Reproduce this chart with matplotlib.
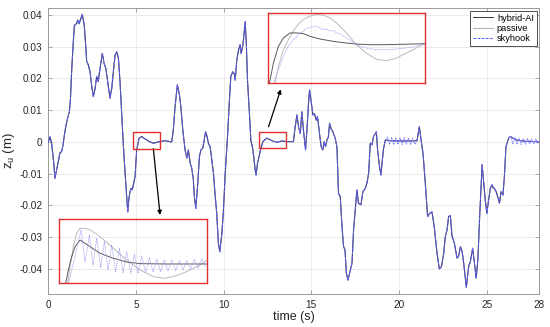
import matplotlib
matplotlib.use("Agg")
import matplotlib.pyplot as plt

plt.rcParams['font.family'] = ['Liberation Sans', 'DejaVu Sans']

# main trace (all three controllers lie on top of each other at this scale)
t_main = [0.0, 0.1, 0.19, 0.3, 0.38, 0.47, 0.57, 0.66, 0.76, 0.84, 0.9, 1.0, 1.1, 1.2,
          1.26, 1.33, 1.42, 1.49, 1.56, 1.62, 1.68, 1.75, 1.83, 1.94, 2.05, 2.13, 2.19,
          2.28, 2.38, 2.48, 2.57, 2.67, 2.76, 2.85, 2.91, 3.01, 3.08, 3.18, 3.28, 3.39,
          3.52, 3.62, 3.71, 3.81, 3.9, 4.0, 4.09, 4.19, 4.28, 4.38, 4.47, 4.53, 4.6,
          4.66, 4.72, 4.79, 4.85, 4.95, 5.04, 5.18, 5.33, 5.45, 5.62, 5.8, 5.99, 6.2,
          6.37, 6.66, 7.04, 7.13, 7.23, 7.36, 7.48, 7.56, 7.67, 7.8, 7.9, 7.99, 8.09,
          8.18, 8.27, 8.33, 8.41, 8.51, 8.62, 8.7, 8.81, 8.89, 8.97, 9.05, 9.13, 9.23,
          9.42, 9.52, 9.6, 9.7, 9.78, 9.9, 9.99, 10.09, 10.22, 10.33, 10.41, 10.52,
          10.6, 10.66, 10.75, 10.85, 10.94, 11.0, 11.1, 11.23, 11.3, 11.36, 11.47,
          11.55, 11.67, 11.8, 11.85, 11.93, 12.04, 12.12, 12.24, 12.46, 12.75, 13.04,
          13.32, 13.6, 13.98, 14.08, 14.18, 14.27, 14.37, 14.46, 14.55, 14.67, 14.75,
          14.84, 14.9, 14.98, 15.09, 15.17, 15.28, 15.35, 15.47, 15.56, 15.66, 15.73,
          15.81, 15.89, 15.97, 16.04, 16.12, 16.23, 16.36, 16.46, 16.55, 16.65, 16.75,
          16.84, 16.92, 17.0, 17.09, 17.18, 17.32, 17.41, 17.6, 17.69, 17.83, 17.94,
          18.08, 18.17, 18.27, 18.36, 18.46, 18.55, 18.71, 18.78, 18.89, 18.97, 19.05,
          19.12, 19.22, 19.5, 20.0, 20.5, 21.03, 21.16, 21.26, 21.37, 21.5, 21.63,
          21.75, 21.88, 22.01, 22.17, 22.3, 22.42, 22.55, 22.64, 22.74, 22.83, 22.93,
          23.02, 23.16, 23.31, 23.4, 23.5, 23.6, 23.69, 23.84, 23.97, 24.07, 24.2,
          24.3, 24.4, 24.5, 24.6, 24.74, 24.8, 24.92, 25.01, 25.11, 25.21, 25.31,
          25.38, 25.44, 25.54, 25.63, 25.73, 25.82, 25.93, 26.01, 26.1, 26.25, 26.35,
          26.7, 27.2, 28.0]
z_main = [0.0, 0.0016, -0.0004, -0.006, -0.0114, -0.009, -0.0062, -0.0035, -0.003,
          -0.001, 0.0015, 0.005, 0.0075, 0.0095, 0.013, 0.0221, 0.031, 0.0368, 0.037,
          0.0374, 0.0384, 0.0372, 0.0385, 0.0402, 0.0368, 0.0306, 0.0253, 0.0243,
          0.0221, 0.0174, 0.0143, 0.0169, 0.0206, 0.019, 0.0216, 0.0253, 0.0279,
          0.0248, 0.0232, 0.019, 0.0138, 0.0169, 0.0221, 0.0274, 0.0284, 0.0264,
          0.019, 0.0085, -0.0009, -0.0099, -0.0172, -0.022, -0.0177, -0.0157, -0.0146,
          -0.0151, -0.0135, -0.0109, -0.0025, 0.0012, 0.0017, 0.0012, 0.0006, 0.0,
          -0.0004, -0.0001, 0.0001, 0.0004, 0.0, 0.0038, 0.0111, 0.018, 0.0148,
          0.0111, 0.0038, -0.0025, -0.0051, -0.0025, -0.0067, -0.0083, -0.0117,
          -0.0172, -0.0209, -0.0141, -0.0046, -0.0025, -0.002, 0.0006, 0.0032, 0.0018,
          -0.0004, -0.0015, -0.0099, -0.0172, -0.022, -0.0319, -0.0346, -0.0288,
          -0.0214, -0.0099, 0.0017, 0.0132, 0.0206, 0.0221, 0.0216, 0.0195, 0.0258,
          0.029, 0.0306, 0.0279, 0.0306, 0.0379, 0.03, 0.0195, 0.009, 0.0006, -0.0025,
          -0.0088, -0.0104, -0.0067, -0.0041, -0.002, 0.0001, 0.0012, 0.0004, -0.0001,
          0.0003, 0.0001, 0.0001, 0.0048, 0.0085, 0.0048, 0.0027, 0.0095, 0.0038,
          -0.0025, 0.0038, 0.0122, 0.0164, 0.0132, 0.0085, 0.009, 0.0069, 0.008,
          0.0027, -0.0015, -0.0025, 0.0001, -0.0015, 0.0006, 0.0015, 0.0059, 0.0043,
          0.0032, 0.0012, -0.0015, -0.0162, -0.0172, -0.0267, -0.033, -0.034, -0.0414,
          -0.0435, -0.0414, -0.0382, -0.0277, -0.0151, -0.0193, -0.0198, -0.0157,
          -0.0146, -0.013, -0.0099, -0.0004, -0.0009, 0.0017, 0.0032, -0.0025, -0.0078,
          -0.0104, -0.0057, -0.002, 0.0006, 0.0004, 0.0003, 0.0003, 0.0004, 0.0048,
          0.0006, -0.0036, -0.013, -0.0235, -0.0225, -0.022, -0.0267, -0.0351, -0.04,
          -0.0393, -0.0351, -0.0298, -0.0277, -0.0235, -0.0232, -0.0295, -0.0319,
          -0.0366, -0.036, -0.033, -0.0345, -0.0382, -0.0458, -0.0393, -0.0377,
          -0.0335, -0.038, -0.0429, -0.037, -0.0235, -0.0072, -0.0109, -0.0183,
          -0.0225, -0.0183, -0.0146, -0.0135, -0.0146, -0.0146, -0.0157, -0.0172,
          -0.0193, -0.0157, -0.0167, -0.0109, -0.0015, 0.0012, 0.0017, 0.0006, 0.0002,
          0.0001]

# skyhook ripple on the flat stretches
t_sky_r1 = [19.22, 19.34, 19.46, 19.58, 19.70, 19.82, 19.94, 20.06, 20.18, 20.30,
            20.42, 20.54, 20.66, 20.78, 20.90, 21.03]
z_sky_r1 = [0.0006, 0.0016, -0.0008, 0.0015, -0.0009, 0.0014, -0.0008, 0.0013,
            -0.0008, 0.0014, -0.0007, 0.0013, -0.0008, 0.0012, -0.0007, 0.0004]
t_sky_r2 = [26.25, 26.37, 26.49, 26.61, 26.73, 26.85, 26.97, 27.09, 27.21, 27.33,
            27.45, 27.57, 27.69, 27.81, 27.93, 28.0]
z_sky_r2 = [0.0012, 0.0018, -0.0006, 0.0014, -0.0008, 0.0012, -0.0008, 0.0011,
            -0.0007, 0.0011, -0.0006, 0.0010, -0.0006, 0.0010, -0.0005, 0.0003]

# zoom 1 (around t = 5..6.5)
t_z1_hyb = [5.063, 5.09, 5.123, 5.157, 5.207, 5.257, 5.307, 5.407, 5.54, 5.673,
            5.807, 6.073, 6.48]
z_z1_hyb = [-0.00116, -0.00036, 0.00044, 0.00104, 0.00144, 0.00124, 0.00104,
            0.00064, 0.00034, 0.00012, 0.00002, 0.0, 0.0]
t_z1_pas = [5.083, 5.107, 5.14, 5.173, 5.207, 5.257, 5.307, 5.407, 5.54, 5.673,
            5.807, 5.94, 6.04, 6.14, 6.273, 6.407, 6.48]
z_z1_pas = [-0.00116, -0.00016, 0.00104, 0.00184, 0.00214, 0.00214, 0.00204,
            0.00164, 0.00094, 0.00024, -0.00036, -0.00076, -0.00086, -0.00076,
            -0.00046, -0.00006, 0.00024]
t_z1_sky = [5.09, 5.147, 5.217, 5.257, 5.3, 5.337, 5.373, 5.413, 5.45, 5.487, 5.523,
            5.563, 5.6, 5.637, 5.673, 5.713, 5.75, 5.787, 5.823, 5.863, 5.9, 5.937,
            5.973, 6.013, 6.05, 6.087, 6.123, 6.163, 6.2, 6.237, 6.273, 6.313, 6.35,
            6.387, 6.423, 6.46]
z_z1_sky = [-0.00116, 0.00024, 0.00204, 0.00014, 0.00174, -0.00006, 0.00154,
            -0.0002, 0.00134, -0.00036, 0.00114, -0.00046, 0.00094, -0.00052,
            0.00074, -0.00056, 0.00058, -0.00056, 0.00048, -0.00052, 0.00038,
            -0.00048, 0.0003, -0.00046, 0.00024, -0.00042, 0.00024, -0.0004, 0.0002,
            -0.00036, 0.0002, -0.00032, 0.00028, -0.00026, 0.00032, -0.0002]

# zoom 2 (around t = 12..13.6)
t_z2_hyb = [12.01, 12.05, 12.1, 12.15, 12.217, 12.283, 12.35, 12.417, 12.517, 12.65,
            12.783, 12.883, 13.017, 13.15, 13.317, 13.573]
z_z2_hyb = [-0.00232, -0.00112, -0.00012, 0.00038, 0.00068, 0.00068, 0.00064,
            0.00048, 0.00032, 0.00018, 0.00008, 0.00002, -0.00002, -0.00002, 0.0,
            0.00004]
t_z2_pas = [12.067, 12.1, 12.15, 12.217, 12.283, 12.35, 12.417, 12.483, 12.55,
            12.617, 12.683, 12.783, 12.883, 12.983, 13.083, 13.183, 13.283, 13.383,
            13.483, 13.573]
z_z2_pas = [-0.00232, -0.00132, -0.00032, 0.00048, 0.00108, 0.00148, 0.00168,
            0.00178, 0.00174, 0.00158, 0.00128, 0.00068, -0.00002, -0.00052,
            -0.00088, -0.00098, -0.00082, -0.00052, -0.00022, 0.00008]
t_z2_sky = [12.05, 12.1, 12.15, 12.2, 12.25, 12.3, 12.35, 12.383, 12.417, 12.45,
            12.483, 12.517, 12.55, 12.583, 12.617, 12.65, 12.683, 12.717, 12.783,
            12.883, 12.983, 13.083, 13.183, 13.317, 13.45, 13.573]
z_z2_sky = [-0.00232, -0.00152, -0.00072, -0.00012, 0.00028, 0.00058, 0.00078,
            0.00098, 0.00098, 0.00108, 0.00108, 0.00098, 0.00088, 0.00092, 0.00078,
            0.00084, 0.00068, 0.00064, 0.00038, -0.00002, -0.00022, -0.00032,
            -0.00032, -0.00026, -0.00016, 0.00004]

x_ticks = [0, 5, 10, 15, 20, 25, 28]
y_ticks = [-0.04, -0.03, -0.02, -0.01, 0, 0.01, 0.02, 0.03, 0.04]
y_ticklabels = ['-0.04', '-0.03', '-0.02', '-0.01', '0', '0.01', '0.02', '0.03', '0.04']

c_hyb = '#343440'
c_pas = '#b4b4b4'
c_sky = '#6464ff'
c_red = '#e03030'

fig = plt.figure(figsize=(5.5, 3.27), dpi=100)
ax = fig.add_axes([0.0878, 0.1009, 0.8927, 0.8746])

ax.plot(t_main, z_main, color=c_pas, lw=0.8, label='passive', zorder=2)
ax.plot(t_main, z_main, color=c_hyb, lw=0.7, label='hybrid-AI', zorder=3)
ax.plot(t_main, z_main, color=c_sky, lw=0.8, ls=(0, (2.5, 1.2)), label='skyhook', zorder=4)
ax.plot(t_sky_r1, z_sky_r1, color='#7a7aff', lw=0.6, ls=(0, (2, 1)), zorder=4)
ax.plot(t_sky_r2, z_sky_r2, color='#7a7aff', lw=0.6, ls=(0, (2, 1)), zorder=4)

ax.set_xlim(0, 28)
ax.set_ylim(-0.0479, 0.0422)
ax.set_xticks(x_ticks)
ax.set_yticks(y_ticks)
ax.set_yticklabels(y_ticklabels)
ax.grid(True, color='#e8e8e8', lw=0.6)
ax.set_axisbelow(True)
ax.tick_params(direction='in', length=3, width=0.6, top=True, right=True,
               labelsize=7.2, colors='#9a9a9a', labelcolor='#262626', pad=4)
for s in ax.spines.values():
    s.set_color('#9a9a9a')
    s.set_linewidth(0.7)
ax.set_xlabel('time (s)', fontsize=9, color='#262626', labelpad=1)
ax.set_ylabel(r'z$_\mathregular{u}$ (m)', fontsize=9.5, color='#262626', labelpad=2)

handles, labels = ax.get_legend_handles_labels()
order = [1, 0, 2]
leg = ax.legend([handles[i] for i in order], [labels[i] for i in order],
                loc='upper right', fontsize=6.6, frameon=True, fancybox=False,
                edgecolor='#333333', framealpha=1, borderpad=0.3, labelspacing=0.15,
                handlelength=2.2, handletextpad=0.4, borderaxespad=0.3)
leg.get_frame().set_linewidth(0.6)

# small red boxes on the main trace
ax.add_patch(plt.Rectangle((4.82, -0.0022), 1.57, 0.0054, fill=False,
                           edgecolor=c_red, lw=1.0, zorder=5))
ax.add_patch(plt.Rectangle((11.99, -0.002), 1.58, 0.0052, fill=False,
                           edgecolor=c_red, lw=1.0, zorder=5))

# arrows to the zoom panels
ax.annotate('', xy=(6.375, -0.023), xytext=(5.99, -0.0021),
            arrowprops=dict(arrowstyle='-|>', color='black', lw=0.9,
                            mutation_scale=6, shrinkA=0, shrinkB=0))
ax.annotate('', xy=(13.26, 0.0166), xytext=(12.56, 0.0048),
            arrowprops=dict(arrowstyle='-|>', color='black', lw=0.9,
                            mutation_scale=6, shrinkA=0, shrinkB=0))

def zoom_panel(rect, th, zh, tp, zp, ts, zs, xl, yl):
    a = fig.add_axes(rect)
    a.set_facecolor('none')
    a.plot(tp, zp, color='#bcbcbc', lw=0.7)
    a.plot(th, zh, color='#5a5a5a', lw=0.7)
    a.plot(ts, zs, color='#9a9af5', lw=0.5, ls=(0, (2, 1)))
    a.set_xlim(*xl)
    a.set_ylim(*yl)
    a.set_xticks([])
    a.set_yticks([])
    for s in a.spines.values():
        s.set_color(c_red)
        s.set_linewidth(1.0)
    return a

zoom_panel([0.108, 0.1336, 0.269, 0.1957], t_z1_hyb, z_z1_hyb, t_z1_pas, z_z1_pas,
           t_z1_sky, z_z1_sky, (5.0, 6.48), (-0.00116, 0.00268))
zoom_panel([0.488, 0.745, 0.285, 0.216], t_z2_hyb, z_z2_hyb, t_z2_pas, z_z2_pas,
           t_z2_sky, z_z2_sky, (12.0, 13.573), (-0.00232, 0.00188))

fig.savefig('out.png', dpi=100)
